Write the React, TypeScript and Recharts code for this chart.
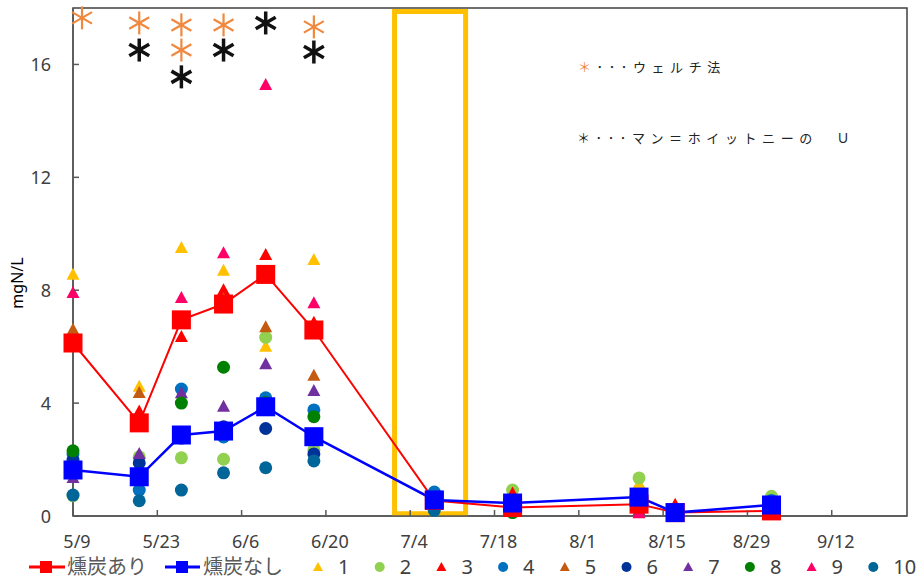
import React from 'react';
import { ComposedChart, Line, Scatter, XAxis, YAxis, ReferenceArea, Legend } from 'recharts';

// sampling days counted from 5/9
const sampleDays = [0, 11, 18, 25, 32, 40, 60, 73, 94, 100, 116];
const xTicks = [0, 14, 28, 42, 56, 70, 84, 98, 112, 126];
const xTickLabels = ['5/9', '5/23', '6/6', '6/20', '7/4', '7/18', '8/1', '8/15', '8/29', '9/12'];
const yTicks = [0, 4, 8, 12, 16];

// means
const withCharcoal = [6.13, 3.3, 6.95, 7.51, 8.56, 6.59, 0.55, 0.3, 0.42, 0.12, 0.18];
const withoutCharcoal = [1.63, 1.39, 2.87, 3.01, 3.87, 2.81, 0.57, 0.46, 0.67, 0.12, 0.39];

// individual plots
const plot1 = [8.55, 4.58, 9.5, 8.69, 6.0, 9.07, 0.5, 0.3, 1.15, 0.15, 0.3];
const plot2 = [0.72, 2.1, 2.06, 2.01, 6.33, 2.34, 0.6, 0.92, 1.35, 0.2, 0.7];
const plot3 = [6.25, 3.7, 6.34, 8.0, 9.25, 6.85, 0.5, 0.8, 0.3, 0.4, 0.2];
const plot4 = [2.2, 0.92, 4.5, 2.8, 4.19, 3.76, 0.85, 0.45, 0.5, 0.15, 0.55];
const plot5 = [6.6, 4.36, 6.98, 7.68, 6.69, 4.97, 0.55, 0.2, 0.35, 0.1, 0.15];
const plot6 = [1.98, 1.88, 2.76, 3.16, 3.1, 2.2, 0.5, 0.35, 0.55, 0.1, 0.3];
const plot7 = [1.35, 2.2, 4.35, 3.87, 5.38, 4.43, 0.55, 0.15, 0.2, 0.05, 0.1];
const plot8 = [2.31, 1.3, 4.0, 5.27, 4.02, 3.52, 0.5, 0.12, 0.75, 0.1, 0.25];
const plot9 = [7.9, 1.39, 7.72, 9.31, 15.27, 7.54, 0.6, 0.3, 0.1, 0.1, 0.15];
const plot10 = [0.74, 0.54, 0.92, 1.53, 1.71, 1.95, 0.2, 0.45, 0.4, 0.15, 0.2];

// significance marks
const welchDays = [1.5, 11, 18, 18, 25, 40];
const welchLevels = [17.65, 17.47, 17.4, 16.51, 17.4, 17.33];
const mwDays = [11, 18, 25, 32, 40];
const mwLevels = [16.51, 15.56, 16.51, 17.47, 16.44];

// highlighted period (days)
const highlightFrom = 53.4;
const highlightTo = 65.2;

const AXIS = '#595959';
const PLOT_LEFT = 73;
const PLOT_BOTTOM = 516;
const FONT = '"Noto Sans", sans-serif';
const JP = '"Noto Sans CJK JP", sans-serif';

const toPoints = (days: number[], vals: number[]) => days.map((d, i) => ({ day: d, v: vals[i] }));

const plots = [
  { name: '1', data: plot1, color: '#FFC000', tri: true },
  { name: '2', data: plot2, color: '#92D050', tri: false },
  { name: '3', data: plot3, color: '#FF0000', tri: true },
  { name: '4', data: plot4, color: '#0070C0', tri: false },
  { name: '5', data: plot5, color: '#C55A11', tri: true },
  { name: '6', data: plot6, color: '#003399', tri: false },
  { name: '7', data: plot7, color: '#7030A0', tri: true },
  { name: '8', data: plot8, color: '#008000', tri: false },
  { name: '9', data: plot9, color: '#FF0066', tri: true },
  { name: '10', data: plot10, color: '#006699', tri: false },
];

const squareDot = (color: string) => (p: any) => {
  if (p.cx == null || p.cy == null) return <g key={p.index} />;
  return <rect key={p.index} x={p.cx - 9.5} y={p.cy - 9.5} width={19} height={19} fill={color} />;
};

const triangleShape = (color: string) => (p: any) => (
  <polygon
    points={`${p.cx},${p.cy - 7} ${p.cx - 6.5},${p.cy + 5} ${p.cx + 6.5},${p.cy + 5}`}
    fill={color}
  />
);

const circleShape = (color: string) => (p: any) => <circle cx={p.cx} cy={p.cy} r={6.5} fill={color} />;

const asteriskShape = (color: string, w: number) => (p: any) => {
  const r = 11.5;
  const dx = r * Math.cos(Math.PI / 6);
  const dy = r * Math.sin(Math.PI / 6);
  return (
    <g stroke={color} strokeWidth={w} strokeLinecap="butt">
      <line x1={p.cx} y1={p.cy - r} x2={p.cx} y2={p.cy + r} />
      <line x1={p.cx - dx} y1={p.cy - dy} x2={p.cx + dx} y2={p.cy + dy} />
      <line x1={p.cx - dx} y1={p.cy + dy} x2={p.cx + dx} y2={p.cy - dy} />
    </g>
  );
};

const XTick = (props: any) => {
  const { x, payload } = props;
  const label = xTickLabels[xTicks.indexOf(payload.value)];
  return (
    <g>
      <line x1={x} x2={x} y1={PLOT_BOTTOM} y2={PLOT_BOTTOM - 6} stroke={AXIS} strokeWidth={1.5} />
      <text x={x + 4} y={548} textAnchor="middle" fontSize={18} fontFamily={FONT} fill="#404040">
        {label}
      </text>
    </g>
  );
};

const YTick = (props: any) => {
  const { y, payload } = props;
  return (
    <g>
      <line x1={PLOT_LEFT} x2={PLOT_LEFT + 6} y1={y} y2={y} stroke={AXIS} strokeWidth={1.5} />
      <text x={51} y={y + 6.5} textAnchor="end" fontSize={18} fontFamily={FONT} fill="#404040">
        {payload.value}
      </text>
    </g>
  );
};

const renderLegend = () => (
  <svg width={918} height={36}>
    <line x1={29} x2={65} y1={18} y2={18} stroke="#FF0000" strokeWidth={3} />
    <rect x={40} y={12} width={12} height={12} fill="#FF0000" />
    <text x={67} y={25} fontSize={20} fontFamily={JP} fill="#595959">燻炭あり</text>
    <line x1={165} x2={200} y1={18} y2={18} stroke="#0000FF" strokeWidth={3} />
    <rect x={176} y={12} width={12} height={12} fill="#0000FF" />
    <text x={203} y={25} fontSize={20} fontFamily={JP} fill="#595959">燻炭なし</text>
    {plots.map((s, i) => {
      const mx = 318 + i * 61.7;
      return (
        <g key={s.name}>
          {s.tri ? (
            <polygon points={`${mx},${13} ${mx - 5},${22} ${mx + 5},${22}`} fill={s.color} />
          ) : (
            <circle cx={mx} cy={18} r={5} fill={s.color} />
          )}
          <text x={mx + 20} y={25} fontSize={20} fontFamily={FONT} fill="#404040">{s.name}</text>
        </g>
      );
    })}
  </svg>
);

const noteStyle: React.CSSProperties = {
  position: 'absolute',
  fontFamily: JP,
  fontSize: 13,
  letterSpacing: 5.6,
  color: '#222',
  whiteSpace: 'nowrap',
  lineHeight: '18px',
};

export default function App() {
  return (
    <div style={{ position: 'absolute', left: 0, top: 0, width: 918, height: 586, background: '#fff' }}>
      <ComposedChart width={918} height={586} margin={{ top: 8, right: 11, bottom: 0, left: 0 }}>
        <XAxis
          type="number"
          dataKey="day"
          domain={[0, 138.5]}
          ticks={xTicks}
          interval={0}
          height={70}
          axisLine={{ stroke: AXIS, strokeWidth: 1.5 }}
          tickLine={false}
          tick={<XTick />}
        />
        <YAxis
          type="number"
          domain={[0, 18]}
          ticks={yTicks}
          interval={0}
          width={73}
          axisLine={{ stroke: AXIS, strokeWidth: 1.5 }}
          tickLine={false}
          tick={<YTick />}
          label={{
            content: () => (
              <text transform="translate(23,283) rotate(-90)" textAnchor="middle" fontSize={16} fontFamily={FONT} fill="#000">
                mgN/L
              </text>
            ),
          }}
        />
        <ReferenceArea x1={0} x2={138.5} y1={0} y2={18} fill="none" stroke="#404040" strokeWidth={1.5} />
        <ReferenceArea
          x1={highlightFrom}
          x2={highlightTo}
          y1={0.08}
          y2={17.88}
          fill="none"
          fillOpacity={0}
          stroke="#FFC000"
          strokeWidth={5}
        />
        <Line
          data={toPoints(sampleDays, withCharcoal)}
          dataKey="v"
          name="燻炭あり"
          stroke="#FF0000"
          strokeWidth={2}
          dot={squareDot('#FF0000')}
          activeDot={false}
          isAnimationActive={false}
        />
        <Line
          data={toPoints(sampleDays, withoutCharcoal)}
          dataKey="v"
          name="燻炭なし"
          stroke="#0000FF"
          strokeWidth={2.5}
          dot={squareDot('#0000FF')}
          activeDot={false}
          isAnimationActive={false}
        />
        {plots.map((s) => (
          <Scatter
            key={s.name}
            name={s.name}
            data={toPoints(sampleDays, s.data)}
            dataKey="v"
            shape={s.tri ? triangleShape(s.color) : circleShape(s.color)}
            isAnimationActive={false}
          />
        ))}
        <Scatter
          name="welch"
          data={toPoints(welchDays, welchLevels)}
          dataKey="v"
          shape={asteriskShape('#F0883E', 2.2)}
          isAnimationActive={false}
        />
        <Scatter
          name="mw"
          data={toPoints(mwDays, mwLevels)}
          dataKey="v"
          shape={asteriskShape('#111111', 3.5)}
          isAnimationActive={false}
        />
        <Legend
          layout="horizontal"
          verticalAlign="middle"
          align="center"
          content={renderLegend}
          wrapperStyle={{ position: 'absolute', left: 0, top: 549, width: 918, height: 36 }}
        />
      </ComposedChart>
      <div style={{ ...noteStyle, left: 578, top: 58 }}>
        <span style={{ color: '#F0883E' }}>＊</span>･･･ウェルチ法
      </div>
      <div style={{ ...noteStyle, left: 577, top: 129 }}>
        ＊･･･マン＝ホイットニーの　Ｕ
      </div>
    </div>
  );
}
